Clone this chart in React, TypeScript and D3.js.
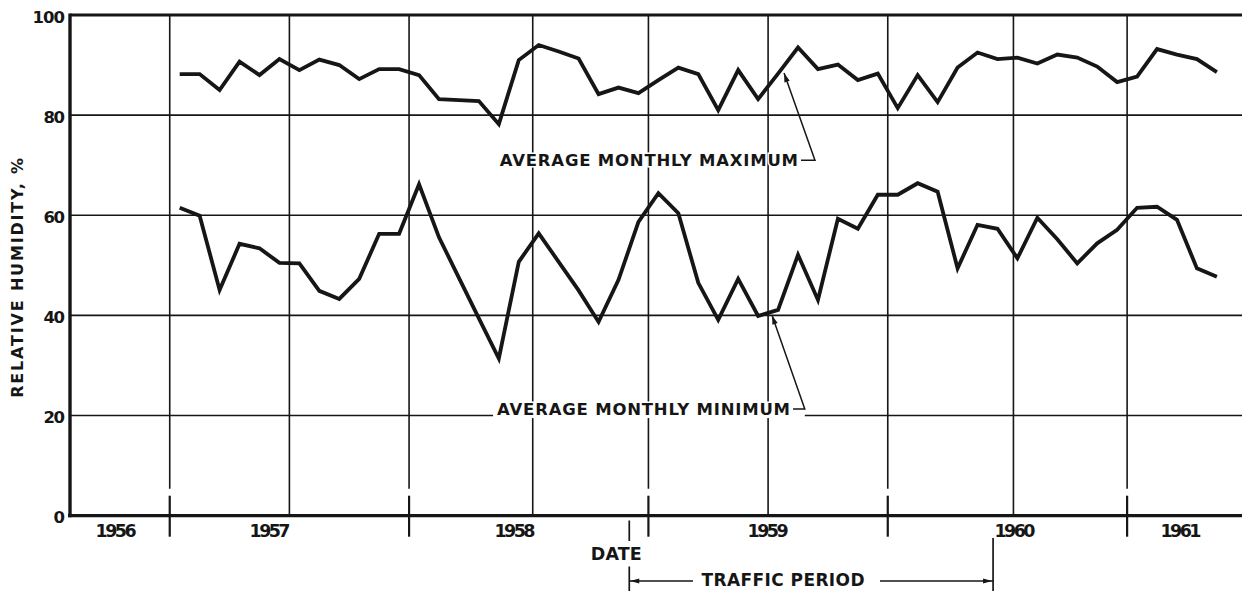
import React from 'react';
import * as d3 from 'd3';

// ---- data ----
const maxHumidity = [
  88.2, 88.2, 85.0, 90.7, 88.0, 91.2, 89.0, 91.1, 90.0, 87.2, 89.2, 89.2,
  88.0, 83.2, 83.0, 82.8, 78.2, 91.0, 94.0, 92.7, 91.3, 84.2, 85.5, 84.4,
  87.0, 89.5, 88.2, 81.0, 89.0, 83.2, 88.3, 93.5, 89.2, 90.1, 87.0, 88.3,
  81.4, 88.0, 82.6, 89.5, 92.5, 91.2, 91.5, 90.3, 92.1, 91.5, 89.7, 86.6,
  87.7, 93.2, 92.1, 91.2, 88.6,
];
const minHumidity = [
  61.5, 59.9, 45.1, 54.3, 53.4, 50.5, 50.4, 44.9, 43.3, 47.3, 56.3, 56.3,
  66.2, 55.6, 47.5, 39.4, 31.4, 50.7, 56.4, 50.7, 45.0, 38.7, 47.1, 58.7,
  64.4, 60.4, 46.5, 39.1, 47.3, 39.9, 41.1, 52.1, 43.1, 59.3, 57.3, 64.1,
  64.1, 66.4, 64.7, 49.4, 58.1, 57.3, 51.4, 59.5, 55.2, 50.4, 54.4, 57.1,
  61.5, 61.7, 59.1, 49.4, 47.7,
];
const yTicks = [0, 20, 40, 60, 80, 100];
const yearLabels = ['1956', '1957', '1958', '1959', '1960', '1961'];
const yearLabelMonths = [-2.69, 5.03, 17.31, 30.0, 42.38, 50.7];
const yearTickMonths = [0, 12, 24, 36, 48];
const gridMonths = [0, 6, 12, 18.2, 24, 30, 36, 42.3, 48];
const trafficPeriod = [23.04, 41.28];

// annotation anchors in data units [month, humidity]
const maxNote = { text: 'AVERAGE MONTHLY MAXIMUM', start: [16.55, 69.9], end: 31.5, elbow: [32.35, 71.0], tip: [30.8, 88.4] };
const minNote = { text: 'AVERAGE MONTHLY MINIMUM', start: [16.41, 20.1], end: 31.1, elbow: [31.84, 21.3], tip: [30.2, 40.0] };

const W = 1242;
const H = 591;
const FONT = "'DejaVu Sans', 'Open Sans', sans-serif";
const INK = '#161616';

const x = d3.scaleLinear().domain([-5, 53.76]).range([70, 1242]);
const y = d3.scaleLinear().domain([0, 100]).range([515.7, 15]);

const lineGen = d3
  .line<number>()
  .x((_, i) => x(i + 0.5))
  .y((d) => y(d))
  .curve(d3.curveLinear);

function Arrowhead({ from, to, len = 9, half = 2.8 }: { from: number[]; to: number[]; len?: number; half?: number }) {
  const dx = to[0] - from[0];
  const dy = to[1] - from[1];
  const d = Math.hypot(dx, dy) || 1;
  const ux = dx / d;
  const uy = dy / d;
  const bx = to[0] - ux * len;
  const by = to[1] - uy * len;
  const pts = [
    [to[0], to[1]],
    [bx - uy * half, by + ux * half],
    [bx + uy * half, by - ux * half],
  ];
  return <polygon points={pts.map((p) => p.join(',')).join(' ')} fill={INK} />;
}

const textStyle = {
  fontFamily: FONT,
  fontWeight: 700 as const,
  fill: INK,
};

function Note({ note }: { note: typeof maxNote }) {
  const sx = x(note.start[0]);
  const sy = y(note.start[1]);
  const ex = x(note.end);
  const el = [x(note.elbow[0]), y(note.elbow[1])];
  const tip = [x(note.tip[0]), y(note.tip[1])];
  return (
    <g>
      <text
        x={sx}
        y={sy}
        {...textStyle}
        fontSize={16.5}
        textLength={ex - sx}
        lengthAdjust="spacing"
        stroke="white"
        strokeWidth={3}
        paintOrder="stroke"
      >
        {note.text}
      </text>
      <polyline
        points={`${ex + 3},${el[1]} ${el[0]},${el[1]} ${tip[0]},${tip[1]}`}
        fill="none"
        stroke={INK}
        strokeWidth={1.5}
      />
      <Arrowhead from={el} to={tip} />
    </g>
  );
}

export default function App() {
  const x0 = x.range()[0];
  const x1 = x.range()[1];
  const yBase = y(0);
  const yTop = y(100);
  const tStart = x(trafficPeriod[0]);
  const tEnd = x(trafficPeriod[1]);
  const arrowY = 581;

  return (
    <svg
      width={W}
      height={H}
      viewBox={`0 0 ${W} ${H}`}
      style={{ position: 'absolute', left: 0, top: 0, background: '#fff' }}
    >
      <rect x={0} y={0} width={W} height={H} fill="#fff" />

      {/* horizontal gridlines */}
      {yTicks.filter((t) => t > 0 && t < 100).map((t) => (
        <line key={'h' + t} x1={x0} x2={x1} y1={y(t)} y2={y(t)} stroke={INK} strokeWidth={1.6} />
      ))}

      {/* vertical gridlines */}
      {gridMonths.map((m) => {
        const isYear = yearTickMonths.includes(m);
        return (
          <line
            key={'v' + m}
            x1={x(m)}
            x2={x(m)}
            y1={yTop}
            y2={isYear ? yBase - 27 : yBase}
            stroke={INK}
            strokeWidth={1.6}
          />
        );
      })}

      {/* year boundary ticks crossing the axis */}
      {yearTickMonths.map((m) => (
        <line key={'yt' + m} x1={x(m)} x2={x(m)} y1={yBase - 20} y2={yBase + 21} stroke={INK} strokeWidth={2.2} />
      ))}

      {/* gap in the 20% gridline behind the minimum label */}
      <rect
        x={x(minNote.start[0]) - 4}
        y={y(20) - 2.5}
        width={x(minNote.elbow[0]) - x(minNote.start[0]) + 4}
        height={5}
        fill="#fff"
      />

      {/* data lines */}
      <path d={lineGen(maxHumidity) || ''} fill="none" stroke={INK} strokeWidth={3.8} strokeLinejoin="miter" />
      <path d={lineGen(minHumidity) || ''} fill="none" stroke={INK} strokeWidth={3.8} strokeLinejoin="miter" />

      {/* annotations */}
      <Note note={maxNote} />
      <Note note={minNote} />

      {/* frame: top border, left axis, bottom axis */}
      <line x1={x0} x2={x1} y1={yTop} y2={yTop} stroke={INK} strokeWidth={3.2} />
      <line x1={x0} x2={x0} y1={yTop - 1.6} y2={yBase + 1.6} stroke={INK} strokeWidth={3.4} />
      <line x1={x0 - 2} x2={x1} y1={yBase} y2={yBase} stroke={INK} strokeWidth={3.2} />

      {/* y tick labels */}
      {yTicks.map((t) => (
        <text
          key={'yl' + t}
          x={65}
          y={y(t) + 3}
          textAnchor="end"
          dominantBaseline="middle"
          {...textStyle}
          fontSize={16.5}
          textLength={String(t).length * 10.8}
          lengthAdjust="spacing"
        >
          {t}
        </text>
      ))}

      {/* y axis title */}
      <text
        transform={`translate(18.5, ${y(47.5)}) rotate(-90)`}
        textAnchor="middle"
        dominantBaseline="middle"
        {...textStyle}
        fontSize={16}
        textLength={240}
        lengthAdjust="spacing"
      >
        RELATIVE HUMIDITY, %
      </text>

      {/* year labels */}
      {yearLabels.map((lab, i) => (
        <text
          key={lab}
          x={x(yearLabelMonths[i])}
          y={531.5}
          textAnchor="middle"
          dominantBaseline="middle"
          {...textStyle}
          fontSize={17.5}
          textLength={41}
          lengthAdjust="spacing"
        >
          {lab}
        </text>
      ))}

      {/* DATE axis title */}
      <text
        x={x(22.39)}
        y={555}
        textAnchor="middle"
        dominantBaseline="middle"
        {...textStyle}
        fontSize={17.5}
        textLength={51}
        lengthAdjust="spacing"
      >
        DATE
      </text>

      {/* traffic period markers */}
      <line x1={tStart} x2={tStart} y1={520.5} y2={541} stroke={INK} strokeWidth={1.7} />
      <line x1={tStart} x2={tStart} y1={566.5} y2={H} stroke={INK} strokeWidth={1.7} />
      <line x1={tEnd} x2={tEnd} y1={538} y2={H} stroke={INK} strokeWidth={1.7} />
      <line x1={tStart} x2={693} y1={arrowY} y2={arrowY} stroke={INK} strokeWidth={1.5} />
      <line x1={880} x2={tEnd} y1={arrowY} y2={arrowY} stroke={INK} strokeWidth={1.5} />
      <Arrowhead from={[tStart + 20, arrowY]} to={[tStart + 1, arrowY]} len={9} half={2.4} />
      <Arrowhead from={[tEnd - 20, arrowY]} to={[tEnd - 1, arrowY]} len={9} half={2.4} />
      <text
        x={x(30.75)}
        y={arrowY}
        textAnchor="middle"
        dominantBaseline="middle"
        {...textStyle}
        fontSize={17}
        textLength={163}
        lengthAdjust="spacing"
      >
        TRAFFIC PERIOD
      </text>
    </svg>
  );
}
